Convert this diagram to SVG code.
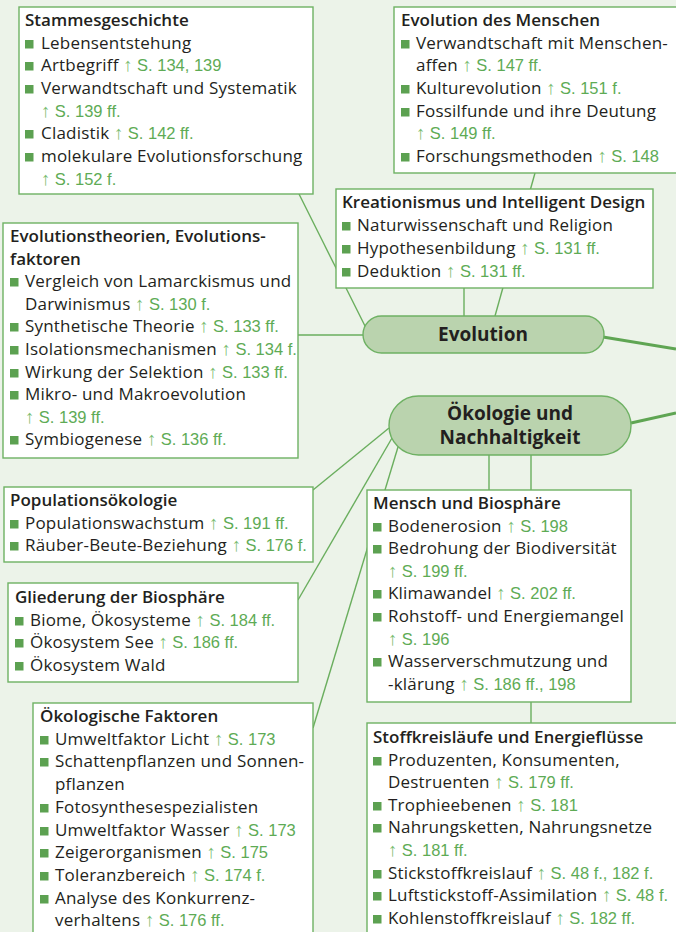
<svg xmlns="http://www.w3.org/2000/svg" xmlns:xlink="http://www.w3.org/1999/xlink" width="676" height="932" viewBox="0 0 676 932">
<defs>
<style>
.bg{fill:#ecf3e9}
.box{fill:#ffffff;stroke:#6eb163;stroke-width:1.4}
.pill{fill:#bad3ae;stroke:#6eb163;stroke-width:1.4}
.t{font-family:"Open Sans","Noto Sans","DejaVu Sans",sans-serif;font-size:17px;letter-spacing:0.2px;fill:#231f20}
.h{font-weight:600;letter-spacing:0}
.r{font-family:"Liberation Sans","DejaVu Sans",sans-serif;font-size:16.5px;letter-spacing:0;fill:#5eab55}
.a{font-size:18.5px;fill:#7cbd72}
.ph{font-family:"Open Sans","Noto Sans",sans-serif;font-size:19px;font-weight:700;fill:#231f20;text-anchor:middle}
.b{fill:#5ca151}
.c{stroke:#6aae5e;stroke-width:1.4;fill:none}
.k{stroke:#5fa553;stroke-width:3;fill:none}
</style>
<rect id="bl" width="8.5" height="8.5" class="b"/>
</defs>
<rect class="bg" x="0" y="0" width="676" height="932"/>

<g id="connectors">
<line class="c" x1="299" y1="194" x2="368" y2="332"/>
<line class="c" x1="535" y1="173" x2="495" y2="316"/>
<line class="c" x1="464" y1="288" x2="464" y2="316"/>
<line class="c" x1="298" y1="335" x2="364" y2="335"/>
<line class="k" x1="603" y1="337" x2="676" y2="349"/>
<line class="k" x1="631" y1="423" x2="676" y2="413"/>
<line class="c" x1="389" y1="428" x2="313" y2="490"/>
<line class="c" x1="392" y1="438" x2="298" y2="600"/>
<line class="c" x1="398" y1="447" x2="313" y2="728"/>
<line class="c" x1="489" y1="455" x2="489" y2="490"/>
<line class="c" x1="531" y1="455" x2="531" y2="490"/>
<line class="c" x1="531" y1="702" x2="531" y2="723"/>
</g>

<g id="stammesgeschichte">
<rect class="box" x="19" y="7" width="294" height="187"/>
<text class="t h" x="25" y="26">Stammesgeschichte</text>
<use href="#bl" x="25" y="40"/><text class="t" x="41" y="49">Lebensentstehung</text>
<use href="#bl" x="25" y="62"/><text class="t" x="41" y="71">Artbegriff <tspan class="r"><tspan class="a">↑</tspan> S. 134, 139</tspan></text>
<use href="#bl" x="25" y="85"/><text class="t" x="41" y="94">Verwandtschaft und Systematik</text>
<text class="t r" x="41" y="117"><tspan class="a">↑</tspan> S. 139 ff.</text>
<use href="#bl" x="25" y="130"/><text class="t" x="41" y="139">Cladistik <tspan class="r"><tspan class="a">↑</tspan> S. 142 ff.</tspan></text>
<use href="#bl" x="25" y="153"/><text class="t" x="41" y="162">molekulare Evolutionsforschung</text>
<text class="t r" x="41" y="185"><tspan class="a">↑</tspan> S. 152 f.</text>
</g>

<g id="evolution-des-menschen">
<rect class="box" x="394" y="7" width="284" height="166"/>
<text class="t h" x="401" y="26">Evolution des Menschen</text>
<use href="#bl" x="401" y="40"/><text class="t" x="416" y="49">Verwandtschaft mit Menschen-</text>
<text class="t" x="416" y="71">affen <tspan class="r"><tspan class="a">↑</tspan> S. 147 ff.</tspan></text>
<use href="#bl" x="401" y="85"/><text class="t" x="416" y="94">Kulturevolution <tspan class="r"><tspan class="a">↑</tspan> S. 151 f.</tspan></text>
<use href="#bl" x="401" y="108"/><text class="t" x="416" y="117">Fossilfunde und ihre Deutung</text>
<text class="t r" x="416" y="139"><tspan class="a">↑</tspan> S. 149 ff.</text>
<use href="#bl" x="401" y="153"/><text class="t" x="416" y="162">Forschungsmethoden <tspan class="r"><tspan class="a">↑</tspan> S. 148</tspan></text>
</g>

<g id="kreationismus">
<rect class="box" x="336" y="189" width="317" height="99"/>
<text class="t h" x="342" y="208">Kreationismus und Intelligent Design</text>
<use href="#bl" x="342" y="222"/><text class="t" x="357" y="231">Naturwissenschaft und Religion</text>
<use href="#bl" x="342" y="245"/><text class="t" x="357" y="254">Hypothesenbildung <tspan class="r"><tspan class="a">↑</tspan> S. 131 ff.</tspan></text>
<use href="#bl" x="342" y="268"/><text class="t" x="357" y="277">Deduktion <tspan class="r"><tspan class="a">↑</tspan> S. 131 ff.</tspan></text>
</g>

<g id="evolutionstheorien">
<rect class="box" x="3" y="223" width="295" height="235"/>
<text class="t h" x="10" y="242">Evolutionstheorien, Evolutions-</text>
<text class="t h" x="10" y="265">faktoren</text>
<use href="#bl" x="10" y="278"/><text class="t" x="25" y="287">Vergleich von Lamarckismus und</text>
<text class="t" x="25" y="310">Darwinismus <tspan class="r"><tspan class="a">↑</tspan> S. 130 f.</tspan></text>
<use href="#bl" x="10" y="323"/><text class="t" x="25" y="332">Synthetische Theorie <tspan class="r"><tspan class="a">↑</tspan> S. 133 ff.</tspan></text>
<use href="#bl" x="10" y="346"/><text class="t" x="25" y="355">Isolationsmechanismen <tspan class="r"><tspan class="a">↑</tspan> S. 134 f.</tspan></text>
<use href="#bl" x="10" y="369"/><text class="t" x="25" y="378">Wirkung der Selektion <tspan class="r"><tspan class="a">↑</tspan> S. 133 ff.</tspan></text>
<use href="#bl" x="10" y="391"/><text class="t" x="25" y="400">Mikro- und Makroevolution</text>
<text class="t r" x="25" y="423"><tspan class="a">↑</tspan> S. 139 ff.</text>
<use href="#bl" x="10" y="436"/><text class="t" x="25" y="445">Symbiogenese <tspan class="r"><tspan class="a">↑</tspan> S. 136 ff.</tspan></text>
</g>

<g id="evolution">
<rect class="pill" x="363" y="316" width="241" height="37" rx="18.5"/>
<text class="ph" x="483" y="341">Evolution</text>
</g>

<g id="oekologie">
<rect class="pill" x="389" y="396" width="242" height="59" rx="29.5"/>
<text class="ph" x="510" y="420">Ökologie und</text>
<text class="ph" x="510" y="444">Nachhaltigkeit</text>
</g>

<g id="populationsoekologie">
<rect class="box" x="4" y="487" width="309" height="75"/>
<text class="t h" x="10" y="506">Populationsökologie</text>
<use href="#bl" x="10" y="520"/><text class="t" x="25" y="529">Populationswachstum <tspan class="r"><tspan class="a">↑</tspan> S. 191 ff.</tspan></text>
<use href="#bl" x="10" y="542"/><text class="t" x="25" y="551">Räuber-Beute-Beziehung <tspan class="r"><tspan class="a">↑</tspan> S. 176 f.</tspan></text>
</g>

<g id="gliederung">
<rect class="box" x="8" y="583" width="290" height="99"/>
<text class="t h" x="15" y="603">Gliederung der Biosphäre</text>
<use href="#bl" x="15" y="617"/><text class="t" x="30" y="626">Biome, Ökosysteme <tspan class="r"><tspan class="a">↑</tspan> S. 184 ff.</tspan></text>
<use href="#bl" x="15" y="639"/><text class="t" x="30" y="648">Ökosystem See <tspan class="r"><tspan class="a">↑</tspan> S. 186 ff.</tspan></text>
<use href="#bl" x="15" y="662"/><text class="t" x="30" y="671">Ökosystem Wald</text>
</g>

<g id="oekologische-faktoren">
<rect class="box" x="33" y="703" width="280" height="232"/>
<text class="t h" x="40" y="722">Ökologische Faktoren</text>
<use href="#bl" x="40" y="736"/><text class="t" x="55" y="745">Umweltfaktor Licht <tspan class="r"><tspan class="a">↑</tspan> S. 173</tspan></text>
<use href="#bl" x="40" y="758"/><text class="t" x="55" y="767">Schattenpflanzen und Sonnen-</text>
<text class="t" x="55" y="790">pflanzen</text>
<use href="#bl" x="40" y="804"/><text class="t" x="55" y="813">Fotosynthesespezialisten</text>
<use href="#bl" x="40" y="827"/><text class="t" x="55" y="836">Umweltfaktor Wasser <tspan class="r"><tspan class="a">↑</tspan> S. 173</tspan></text>
<use href="#bl" x="40" y="849"/><text class="t" x="55" y="858">Zeigerorganismen <tspan class="r"><tspan class="a">↑</tspan> S. 175</tspan></text>
<use href="#bl" x="40" y="872"/><text class="t" x="55" y="881">Toleranzbereich <tspan class="r"><tspan class="a">↑</tspan> S. 174 f.</tspan></text>
<use href="#bl" x="40" y="895"/><text class="t" x="55" y="904">Analyse des Konkurrenz-</text>
<text class="t" x="55" y="926">verhaltens <tspan class="r"><tspan class="a">↑</tspan> S. 176 ff.</tspan></text>
</g>

<g id="mensch-und-biosphaere">
<rect class="box" x="367" y="490" width="264" height="212"/>
<text class="t h" x="373" y="509">Mensch und Biosphäre</text>
<use href="#bl" x="373" y="523"/><text class="t" x="388" y="532">Bodenerosion <tspan class="r"><tspan class="a">↑</tspan> S. 198</tspan></text>
<use href="#bl" x="373" y="545"/><text class="t" x="388" y="554">Bedrohung der Biodiversität</text>
<text class="t r" x="388" y="577"><tspan class="a">↑</tspan> S. 199 ff.</text>
<use href="#bl" x="373" y="590"/><text class="t" x="388" y="599">Klimawandel <tspan class="r"><tspan class="a">↑</tspan> S. 202 ff.</tspan></text>
<use href="#bl" x="373" y="613"/><text class="t" x="388" y="622">Rohstoff- und Energiemangel</text>
<text class="t r" x="388" y="645"><tspan class="a">↑</tspan> S. 196</text>
<use href="#bl" x="373" y="658"/><text class="t" x="388" y="667">Wasserverschmutzung und</text>
<text class="t" x="388" y="690">-klärung <tspan class="r"><tspan class="a">↑</tspan> S. 186 ff., 198</tspan></text>
</g>

<g id="stoffkreislaeufe">
<rect class="box" x="367" y="723" width="312" height="212"/>
<text class="t h" x="373" y="743">Stoffkreisläufe und Energieflüsse</text>
<use href="#bl" x="373" y="757"/><text class="t" x="388" y="766">Produzenten, Konsumenten,</text>
<text class="t" x="388" y="788">Destruenten <tspan class="r"><tspan class="a">↑</tspan> S. 179 ff.</tspan></text>
<use href="#bl" x="373" y="802"/><text class="t" x="388" y="811">Trophieebenen <tspan class="r"><tspan class="a">↑</tspan> S. 181</tspan></text>
<use href="#bl" x="373" y="824"/><text class="t" x="388" y="833">Nahrungsketten, Nahrungsnetze</text>
<text class="t r" x="388" y="856"><tspan class="a">↑</tspan> S. 181 ff.</text>
<use href="#bl" x="373" y="870"/><text class="t" x="388" y="879">Stickstoffkreislauf <tspan class="r"><tspan class="a">↑</tspan> S. 48 f., 182 f.</tspan></text>
<use href="#bl" x="373" y="892"/><text class="t" x="388" y="901">Luftstickstoff-Assimilation <tspan class="r"><tspan class="a">↑</tspan> S. 48 f.</tspan></text>
<use href="#bl" x="373" y="915"/><text class="t" x="388" y="924">Kohlenstoffkreislauf <tspan class="r"><tspan class="a">↑</tspan> S. 182 ff.</tspan></text>
</g>
</svg>
